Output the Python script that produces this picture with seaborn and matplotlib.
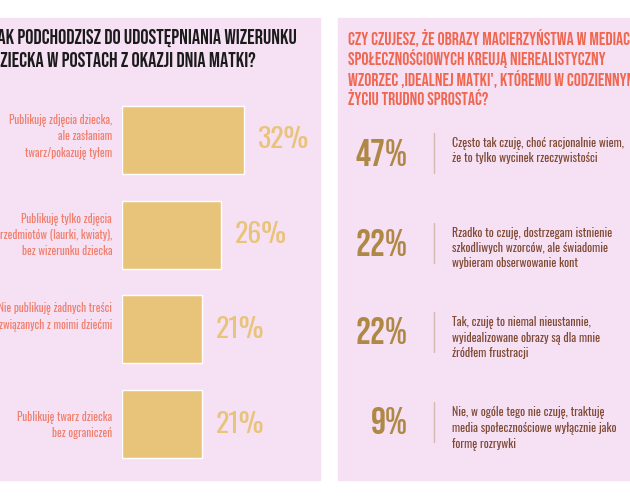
import matplotlib
matplotlib.use("Agg")
import matplotlib.pyplot as plt
import seaborn as sns
import pandas as pd
from matplotlib import font_manager
from matplotlib.patches import Rectangle
from matplotlib.lines import Line2D

# ---------------- data ----------------
left_title = "JAK PODCHODZISZ DO UDOSTĘPNIANIA WIZERUNKU\nDZIECKA W POSTACH Z OKAZJI DNIA MATKI?"
left_categories = [
    "Publikuję zdjęcia dziecka,\nale zasłaniam\ntwarz/pokazuję tyłem",
    "Publikuję tylko zdjęcia\nprzedmiotów (laurki, kwiaty),\nbez wizerunku dziecka",
    "Nie publikuję żadnych treści\nzwiązanych z moimi dziećmi",
    "Publikuję twarz dziecka\nbez ograniczeń",
]
left_values = [32, 26, 21, 21]

right_title = ("CZY CZUJESZ, ŻE OBRAZY MACIERZYŃSTWA W MEDIACH\n"
               "SPOŁECZNOŚCIOWYCH KREUJĄ NIEREALISTYCZNY\n"
               "WZORZEC ‚IDEALNEJ MATKI', KTÓREMU W CODZIENNYM\n"
               "ŻYCIU TRUDNO SPROSTAĆ?")
right_values = [47, 22, 22, 9]
right_answers = [
    "Często tak czuję, choć racjonalnie wiem,\nże to tylko wycinek rzeczywistości",
    "Rzadko to czuję, dostrzegam istnienie\nszkodliwych wzorców, ale świadomie\nwybieram obserwowanie kont",
    "Tak, czuję to niemal nieustannie,\nwyidealizowane obrazy są dla mnie\nźródłem frustracji",
    "Nie, w ogóle tego nie czuję, traktuję\nmedia społecznościowe wyłącznie jako\nformę rozrywki",
]

# ---------------- style ----------------
PINK = "#F6E0F4"
BAR = "#E8C47A"
SALMON = "#F07F6C"
CORAL = "#F0674F"
GOLD = "#B08845"
BROWN = "#7E4A33"
RULE = "#D3B9B0"

sns.set_theme(style="white")
names = {f.name for f in font_manager.fontManager.ttflist}

def pick(*c):
    return next((x for x in c if x in names), "DejaVu Sans")

BODY = pick("Oswald", "Pathway Gothic One", "Roboto Condensed")
TITLE = pick("Bebas Neue", "Oswald", "Roboto Condensed")
PCT = pick("Bebas Neue", "Oswald", "Roboto Condensed")
plt.rcParams["font.family"] = [BODY, "DejaVu Sans"]

fig = plt.figure(figsize=(6.3, 5.0), dpi=100)
fig.patch.set_facecolor("white")
W, H = 630.0, 500.0

def fx(px):
    return px / W

def fy(py):
    return 1 - py / H

# panel backgrounds
fig.patches.append(Rectangle((fx(0), fy(480)), fx(320), (480 - 18) / H,
                             transform=fig.transFigure, color=PINK, zorder=-5))
fig.patches.append(Rectangle((fx(338), fy(480)), fx(630 - 338), (480 - 18) / H,
                             transform=fig.transFigure, color=PINK, zorder=-5))

# left title
fig.text(fx(-8), fy(29), left_title, ha="left", va="top", fontsize=14.8,
         family=[TITLE, "DejaVu Sans"], color="#1b1b1b", linespacing=1.33)

# left bar chart
df = pd.DataFrame({"cat": left_categories, "val": left_values})
ax = fig.add_axes([fx(122), fy(471.4), fx(320 - 122), (471.4 - 92.6) / H])
ax.set_facecolor("none")
sns.barplot(data=df, x="val", y="cat", orient="h", color=BAR, width=0.72,
            saturation=1, ax=ax)
ax.set_xlim(0, 198 / 3.8)
ax.set_ylim(3.5, -0.5)
ax.set_yticks([])
ax.set_xticks([])
ax.set_xlabel("")
ax.set_ylabel("")
for s in ax.spines.values():
    s.set_visible(False)
ax.bar_label(ax.containers[0], labels=[f"{v}%" for v in left_values],
             padding=10, fontsize=20, color=BAR)
label_shift = [-0.04, 0, -0.14, 0]
for i, (lab, sh) in enumerate(zip(left_categories, label_shift)):
    ax.text(-10 / 3.8, i + sh, lab, ha="right", va="center", fontsize=8.1,
            color=SALMON, linespacing=1.4, clip_on=False)

# right panel
fig.text(fx(348), fy(29), right_title, ha="left", va="top", fontsize=12.7,
         family=[TITLE, "DejaVu Sans"], color=CORAL, linespacing=1.13)
centers = [153, 243, 332, 422]
for c, v, a in zip(centers, right_values, right_answers):
    fig.text(fx(408), fy(c - 1), f"{v}%", ha="right", va="center_baseline",
             fontsize=27, family=[PCT, "DejaVu Sans"], color=GOLD)
    fig.add_artist(Line2D([fx(434), fx(434)], [fy(c - 20), fy(c + 20)],
                          transform=fig.transFigure, color=RULE, lw=1))
    fig.text(fx(452), fy(c - 17), a, ha="left", va="top", fontsize=8.5,
             color=BROWN, linespacing=1.3)

fig.savefig("out.png", dpi=100, facecolor="white")
